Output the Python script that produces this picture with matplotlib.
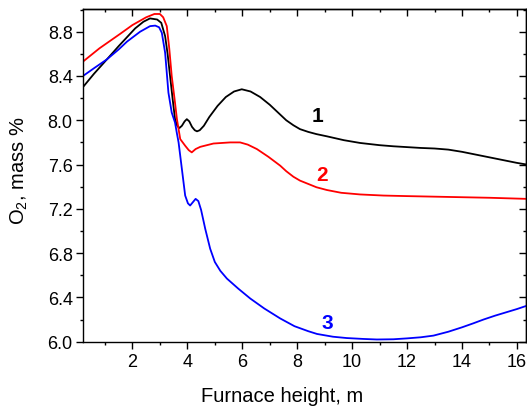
import matplotlib
matplotlib.use("Agg")
import matplotlib.pyplot as plt
from matplotlib.ticker import MultipleLocator

plt.rcParams['font.family'] = ['Liberation Sans', 'DejaVu Sans']
plt.rcParams['mathtext.fontset'] = 'custom'
plt.rcParams['mathtext.rm'] = 'Liberation Sans'

# Curve 1 (black)
x1 = [0.2, 0.6, 1.07, 1.5, 1.8, 2.1, 2.4, 2.64, 2.9, 3.05, 3.19, 3.28, 3.37, 3.46, 3.55, 3.63, 3.71,
      3.8, 3.9, 3.98, 4.07, 4.17, 4.27, 4.35, 4.45, 4.6, 4.8, 5.1, 5.4, 5.7, 5.98, 6.3, 6.65,
      7.0, 7.3, 7.6, 7.86, 8.1, 8.4, 8.7, 9.08, 9.7, 10.29, 11.0, 11.5, 12.5, 13.0, 13.5, 14.0,
      14.5, 15.0, 15.5, 16.0, 16.36]
y1 = [8.30, 8.42, 8.55, 8.67, 8.75, 8.83, 8.89, 8.92, 8.91, 8.88, 8.76, 8.60, 8.40, 8.20, 8.01, 7.95, 7.93,
      7.95, 7.99, 8.01, 7.99, 7.94, 7.91, 7.90, 7.91, 7.95, 8.03, 8.13, 8.21, 8.26, 8.28, 8.26, 8.21,
      8.14, 8.07, 8.00, 7.955, 7.92, 7.895, 7.875, 7.855, 7.82, 7.795, 7.775, 7.765, 7.75, 7.745, 7.735, 7.715,
      7.69, 7.665, 7.64, 7.615, 7.60]

# Curve 2 (red)
x2 = [0.2, 0.8, 1.55, 2.0, 2.5, 2.8, 3.0, 3.12, 3.25, 3.34, 3.43, 3.53, 3.62, 3.74, 3.92, 4.05, 4.16,
      4.3, 4.47, 4.95, 5.56, 5.92, 6.2, 6.53, 6.95, 7.38, 7.6, 7.86, 8.1, 8.35, 8.7, 9.08, 9.6, 10.29, 11.14,
      12.0, 13.0, 14.0, 15.0, 16.36]
y2 = [8.53, 8.65, 8.78, 8.86, 8.93, 8.96, 8.96, 8.93, 8.85, 8.65, 8.40, 8.20, 8.01, 7.83, 7.77, 7.73, 7.71,
      7.74, 7.76, 7.79, 7.80, 7.80, 7.78, 7.74, 7.67, 7.59, 7.54, 7.49, 7.455, 7.43, 7.395, 7.37, 7.345, 7.33, 7.32,
      7.315, 7.31, 7.305, 7.30, 7.29]

# Curve 3 (blue)
x3 = [0.2, 0.6, 1.07, 1.5, 1.8, 2.28, 2.64, 2.83, 2.97, 3.07, 3.19, 3.31, 3.43, 3.55, 3.62, 3.68, 3.80,
      3.92, 4.02, 4.10, 4.20, 4.30, 4.40, 4.50, 4.65, 4.83, 5.0, 5.2, 5.44, 5.85, 6.29, 6.8, 7.38,
      7.9, 8.4, 8.72, 9.3, 9.8, 10.4, 10.9, 11.5, 12.0, 12.5, 12.96, 13.5, 14.0, 14.4, 14.78, 15.2,
      15.6, 16.0, 16.36]
y3 = [8.40, 8.47, 8.55, 8.64, 8.71, 8.80, 8.85, 8.855, 8.84, 8.79, 8.61, 8.25, 8.07, 7.98, 7.88, 7.80, 7.56,
      7.32, 7.25, 7.23, 7.26, 7.29, 7.27, 7.19, 7.02, 6.84, 6.72, 6.64, 6.57, 6.48, 6.39, 6.30, 6.21,
      6.14, 6.095, 6.07, 6.045, 6.033, 6.025, 6.02, 6.022, 6.03, 6.04, 6.055, 6.09, 6.13, 6.165, 6.20, 6.235,
      6.265, 6.295, 6.325]

labels = ["1", "2", "3"]
label_x = [8.72, 8.9, 9.1]
label_y = [8.04, 7.51, 6.17]
colors = ["black", "#ff0000", "#0000ff"]

x_ticks = [2, 4, 6, 8, 10, 12, 14, 16]
y_ticks = [6.0, 6.4, 6.8, 7.2, 7.6, 8.0, 8.4, 8.8]

W, H = 527, 410
fig = plt.figure(figsize=(W / 100, H / 100), dpi=100)
ax = fig.add_axes([83 / W, (H - 342.7) / H, (526.3 - 83) / W, (342.7 - 10) / H])

for xs, ys, c in zip([x1, x2, x3], [y1, y2, y3], colors):
    ax.plot(xs, ys, color=c, lw=1.3, solid_joinstyle='round')

for t, lx, ly, c in zip(labels, label_x, label_y, colors):
    ax.text(lx, ly, t, color=c, fontsize=15, fontweight='bold', ha='center', va='center')

ax.set_xlim(0.2, 16.34)
ax.set_ylim(6.0, 9.005)
ax.set_xticks(x_ticks)
ax.set_yticks(y_ticks)
ax.set_yticklabels([f"{v:.1f}" for v in y_ticks])
ax.xaxis.set_minor_locator(MultipleLocator(1))
ax.yaxis.set_minor_locator(MultipleLocator(0.2))
ax.tick_params(which='major', direction='out', length=4.8, width=1.0, labelsize=13)
ax.tick_params(which='minor', direction='out', length=2.4, width=1.0)
ax.tick_params(axis='y', which='major', pad=2.6)
ax.tick_params(axis='x', which='major', pad=3.3)
for s in ax.spines.values():
    s.set_linewidth(1.0)

top = ax.secondary_xaxis('top')
top.set_xticks(x_ticks)
top.xaxis.set_minor_locator(MultipleLocator(1))
top.tick_params(which='major', direction='in', length=4.8, width=1.0, labeltop=False)
top.tick_params(which='minor', direction='in', length=2.4, width=1.0)
top.spines['top'].set_linewidth(1.0)

right = ax.secondary_yaxis('right')
right.set_yticks(y_ticks)
right.yaxis.set_minor_locator(MultipleLocator(0.2))
right.tick_params(which='major', direction='in', length=4.8, width=1.0, labelright=False)
right.tick_params(which='minor', direction='in', length=2.4, width=1.0)
right.spines['right'].set_linewidth(1.0)

ax.set_xlabel("Furnace height, m", fontsize=14.5)
ax.xaxis.set_label_coords((282 - 83) / (526.3 - 83), -(397 - 342.7) / (342.7 - 10), transform=ax.transAxes)
ax.xaxis.label.set_va('center')
ax.set_ylabel("O$_2$, mass %", fontsize=14.5)
ax.yaxis.set_label_coords(-(83 - 19) / (526.3 - 83), (342.7 - 171) / (342.7 - 10), transform=ax.transAxes)
ax.yaxis.label.set_va('center')

fig.savefig("out.png", dpi=100)
